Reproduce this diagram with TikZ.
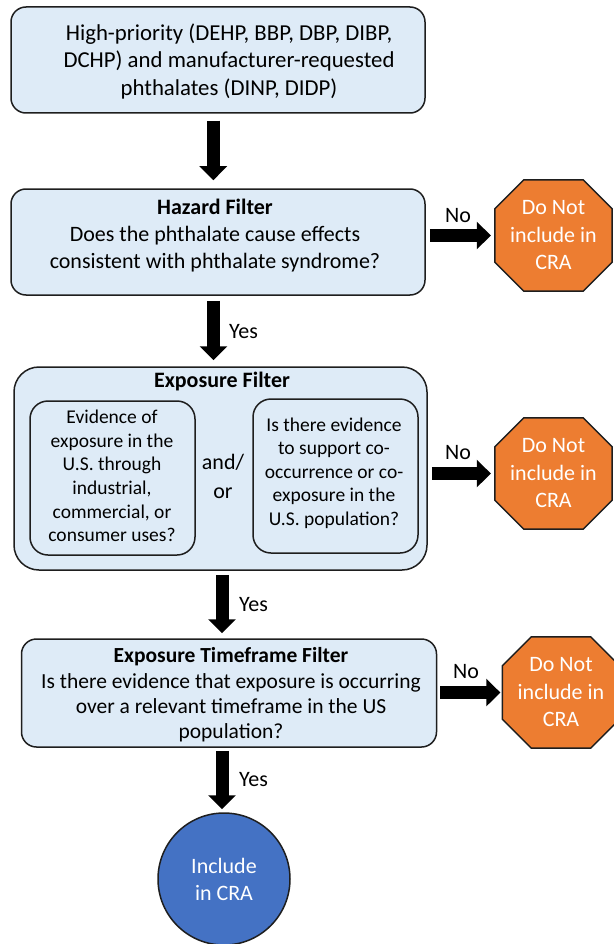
\documentclass[tikz,border=0pt]{standalone}
\usepackage{fontspec}
\setmainfont{Carlito}
\usetikzlibrary{arrows.meta,calc,backgrounds}
\definecolor{boxblue}{HTML}{DEEBF7}
\definecolor{stoporange}{HTML}{ED7D31}
\definecolor{incblue}{HTML}{4472C4}
\definecolor{edgecol}{HTML}{1E1E1E}
\begin{document}
\begin{tikzpicture}[x=1pt,y=-1pt,
  flowbox/.style={draw=edgecol, line width=1.5pt, fill=boxblue, rounded corners=15pt, inner sep=0pt},
  txt/.style={align=center, font=\fontsize{22}{27}\selectfont, inner sep=0pt},
  smalltxt/.style={align=center, font=\fontsize{19.5}{23.6}\selectfont, inner sep=0pt},
  stopsign/.style={minimum width=117pt, minimum height=111pt, inner sep=0pt, align=center, text=white, font=\fontsize{22}{27.5}\selectfont},
  octfill/.style={fill=stoporange, draw=edgecol, line width=1.5pt, line join=miter},
  bigarrow/.style={line width=13pt, -{Triangle[width=27pt,length=14pt]}},
  lbl/.style={font=\fontsize{22}{26}\selectfont, inner sep=0pt, anchor=west}]
\useasboundingbox (0,0) rectangle (613,944);

% source box
\node[flowbox, minimum width=414pt, minimum height=106pt] (src) at (218,60) {};
\node[txt, font=\fontsize{22.8}{27.5}\selectfont] (srct) at (229,61.5) {High-priority (DEHP, BBP, DBP, DIBP,\\DCHP) and manufacturer-requested\\phthalates (DINP, DIDP)};

% hazard filter
\node[flowbox, minimum width=414pt, minimum height=106pt] (haz) at (218,242) {};
\node[txt] (hazt) at (215,236) {\textbf{Hazard Filter}\\Does the phthalate cause effects\\consistent with phthalate syndrome?};

% exposure filter
\node[flowbox, rounded corners=25pt, minimum width=413pt, minimum height=203pt] (exp) at (220.5,468.5) {};
\node[txt] (expt) at (222,382) {\textbf{Exposure Filter}};
\node[flowbox, rounded corners=18pt, minimum width=165pt, minimum height=154pt] (inl) at (112.5,478) {};
\node[smalltxt] (inlt) at (112,476) {Evidence of\\exposure in the\\U.S. through\\industrial,\\commercial, or\\consumer uses?};
\node[flowbox, rounded corners=18pt, minimum width=165pt, minimum height=154pt] (inr) at (335.5,476) {};
\node[smalltxt] (inrt) at (334,473) {Is there evidence\\to support co-\\occurrence or co-\\exposure in the\\U.S. population?};
\node[align=center, font=\fontsize{22}{29}\selectfont, inner sep=0pt] (andor) at (223,476.5) {and/\\or};

% timeframe filter
\node[flowbox, minimum width=415pt, minimum height=108pt] (tf) at (229,693) {};
\node[align=center, font=\fontsize{21.5}{25.3}\selectfont, inner sep=0pt] (tft) at (231,695) {\textbf{Exposure Timeframe Filter}\\Is there evidence that exposure is occurring\\over a relevant timeframe in the US\\population?};

% stop octagons
\node[stopsign] (o1) at (553.5,235.5) {Do Not\\include in\\CRA};
\node[stopsign] (o2) at (553.5,473.5) {Do Not\\include in\\CRA};
\node[stopsign] (o3) at (561,692.5) {Do Not\\include in\\CRA};
\begin{scope}[on background layer]
\foreach \o in {o1,o2,o3}{
  \filldraw[octfill] ($(\o.north west)+(29,0)$) -- ($(\o.north east)+(-29,0)$) -- ($(\o.north east)+(0,29)$) -- ($(\o.south east)+(0,-29)$) -- ($(\o.south east)+(-29,0)$) -- ($(\o.south west)+(29,0)$) -- ($(\o.south west)+(0,-29)$) -- ($(\o.north west)+(0,29)$) -- cycle;
}
\end{scope}

% include circle
\node[circle, fill=incblue, draw=edgecol, line width=1.5pt, minimum size=132pt, inner sep=0pt, align=center, text=white, font=\fontsize{22}{27}\selectfont] (inc) at (224,879) {Include\\in CRA};

% vertical arrows
\draw[bigarrow] ($(src.south)+(-4.7,7)$) -- ($(haz.north)+(-4.7,-8)$);
\draw[bigarrow] ($(haz.south)+(-4.5,5)$) -- ($(exp.north)+(-7,-6)$);
\draw[bigarrow] ($(exp.south)+(1.5,4)$) -- ($(tf.north)+(-7,-5)$);
\draw[bigarrow] ($(tf.south)+(-7,3)$) -- ($(inc.north)+(-2,-3)$);

% horizontal arrows
\draw[bigarrow, shorten <=4pt, shorten >=4pt] (haz.east |- o1.west) -- (o1.west);
\draw[bigarrow, shorten <=4pt, shorten >=4pt] (exp.east |- o2.west) -- (o2.west);
\draw[bigarrow, shorten <=3pt, shorten >=2pt] (tf.east |- o3.west) -- (o3.west);

% labels
\node[lbl] (no1) at (445,216) {No};
\node[lbl] (no2) at (445,453) {No};
\node[lbl] (no3) at (453,672) {No};
\node[lbl] (yes1) at (229,332) {Yes};
\node[lbl] (yes2) at (239,605) {Yes};
\node[lbl] (yes3) at (239,780) {Yes};
\end{tikzpicture}
\end{document}
